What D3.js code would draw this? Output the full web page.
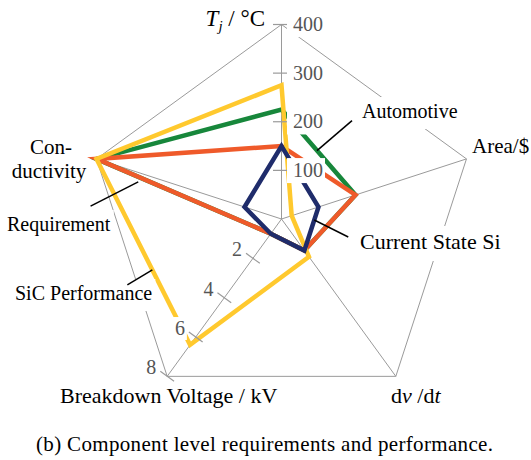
<!DOCTYPE html>
<html><head><meta charset="utf-8">
<script src="https://cdn.jsdelivr.net/npm/d3@7"></script>
<style>
html,body{margin:0;padding:0;background:#fff;}
svg{display:block;}
svg text{font-family:'Liberation Serif','DejaVu Serif',serif;}
</style></head><body>
<svg id="chart" width="531" height="460" font-family="Liberation Serif, DejaVu Serif, serif"></svg>
<script>
// Radar axes, clockwise from the top, with their full-scale values
const axisNames = ["Tj", "Area/$", "dv/dt", "Breakdown Voltage / kV", "Conductivity"];
const axisMax = [400, 1, 1, 8, 1];
const tjTicks = [100, 200, 300, 400];
const vbrTicks = [2, 4, 6, 8];

// Per-axis values: Tj (°C), Area/$ (rel.), dv/dt (rel.), breakdown (kV), conductivity (rel.)
const seriesNames = ["Automotive", "Requirement", "SiC Performance", "Current State Si"];
const automotive = [225, 0.40, 0.20, 0.75, 1.0];
const requirement = [150, 0.40, 0.20, 0.75, 1.0];
const sicPerformance = [275, 0.055, 0.24, 6.4, 1.0];
const currentSi = [150, 0.20, 0.20, 0.75, 0.20];
const seriesColors = ["#17873b", "#ef5a2a", "#ffc92e", "#1f2c6b"];

const caption = "(b) Component level requirements and performance.";

const W = 531, H = 460;
const cx = 281.5, cy = 219, R = 194.5;
const GRID = "#9a9a9a", TICKTXT = "#555";
const FONT = "'Liberation Serif', 'DejaVu Serif', serif";

const svg = d3.select("#chart");
svg.append("rect").attr("width", W).attr("height", H).attr("fill", "#fff");

const angle = i => i * 2 * Math.PI / axisMax.length;
const rScales = axisMax.map(m => d3.scaleLinear().domain([0, m]).range([0, R]));
const pt = (i, v) => {
  const r = rScales[i](v), a = angle(i);
  return [cx + r * Math.sin(a), cy - r * Math.cos(a)];
};
const lerp = (a, b, t) => [a[0] + (b[0] - a[0]) * t, a[1] + (b[1] - a[1]) * t];

// grid: outer pentagon and spokes
const gGrid = svg.append("g");
const outer = axisMax.map((m, i) => pt(i, m));
gGrid.append("path")
  .attr("d", d3.line().curve(d3.curveLinearClosed)(outer))
  .attr("fill", "none").attr("stroke", GRID).attr("stroke-width", 1);
outer.forEach(p => {
  gGrid.append("line").attr("x1", cx).attr("y1", cy).attr("x2", p[0]).attr("y2", p[1])
    .attr("stroke", GRID).attr("stroke-width", 1);
});

// series polygons
const seriesData = [automotive, requirement, sicPerformance, currentSi];
const polyLine = d3.line().curve(d3.curveLinearClosed);
const gSeries = svg.append("g");
seriesData.forEach((vals, k) => {
  gSeries.append("path")
    .attr("d", polyLine(vals.map((v, i) => pt(i, v))))
    .attr("fill", "none")
    .attr("stroke", seriesColors[k])
    .attr("stroke-width", 4.5)
    .attr("stroke-linejoin", "miter")
    .attr("stroke-miterlimit", 10);
});

// axis ticks
const gTicks = svg.append("g");
const labelLayer = svg.append("g");
const TL = 8.5;

function boxedText(parent, x, y, txt, opts) {
  const g = parent.append("g");
  const rect = g.append("rect").attr("fill", "#fff");
  const t = g.append("text").attr("x", x).attr("y", y)
    .attr("font-family", FONT)
    .attr("font-size", opts.size || 20)
    .attr("fill", opts.fill || "#000")
    .attr("text-anchor", opts.anchor || "start")
    .text(txt);
  const bb = t.node().getBBox();
  const p = opts.pad || [2, 2, 2, 2]; // top, right, bottom, left
  rect.attr("x", bb.x - p[3]).attr("y", bb.y - p[0])
    .attr("width", bb.width + p[1] + p[3]).attr("height", bb.height + p[0] + p[2]);
  return g;
}

tjTicks.forEach(v => {
  const [x, y] = pt(0, v);
  gTicks.append("line").attr("x1", x - TL).attr("x2", x + TL).attr("y1", y).attr("y2", y)
    .attr("stroke", GRID).attr("stroke-width", 1.2);
  boxedText(labelLayer, x + 11.5, y + 6.7, String(v), { fill: TICKTXT, pad: [1, 2, 2, 6] });
});

{
  const a = angle(3);
  const nx = -Math.cos(a), ny = -Math.sin(a); // perpendicular to the breakdown axis
  vbrTicks.forEach(v => {
    const [x, y] = pt(3, v);
    const x1 = x - TL * nx, y1 = y - TL * ny, x2 = x + TL * nx, y2 = y + TL * ny;
    gTicks.append("line").attr("x1", x1).attr("y1", y1).attr("x2", x2).attr("y2", y2)
      .attr("stroke", GRID).attr("stroke-width", 1.2);
    const lx = Math.min(x1, x2), ly = x1 < x2 ? y1 : y2;
    boxedText(labelLayer, lx - 4, ly + 3, String(v), { fill: TICKTXT, anchor: "end", pad: [0, 2, 1, 2] });
  });
}

// callouts, anchored on the series lines
const callouts = [
  { name: seriesNames[0], anchor: lerp(pt(0, automotive[0]), pt(1, automotive[1]), 0.48), off: [35, -30], tx: 362, ty: 118, size: 20 },
  { name: seriesNames[3], anchor: lerp(pt(1, currentSi[1]), pt(2, currentSi[2]), 0.3), off: [34, 17], tx: 360, ty: 249, size: 22 },
  { name: seriesNames[1], anchor: lerp(pt(4, requirement[4]), pt(3, requirement[3]), 0.27), off: [-53, 27], shorten: 6, tx: 7, ty: 231, size: 20 },
  { name: seriesNames[2], anchor: lerp(pt(4, sicPerformance[4]), pt(3, sicPerformance[3]), 0.597), off: [-25, 15], tx: 15, ty: 300, size: 20 }
];
const gCall = svg.append("g");
callouts.forEach(c => {
  const s = [c.anchor[0] + c.off[0], c.anchor[1] + c.off[1]];
  let e = c.anchor;
  if (c.shorten) {
    const L = Math.hypot(c.off[0], c.off[1]);
    e = [e[0] + c.off[0] / L * c.shorten, e[1] + c.off[1] / L * c.shorten];
  }
  boxedText(gCall, c.tx, c.ty, c.name, { size: c.size, pad: [3, 3, 7, 3] });
  gCall.append("line").attr("x1", s[0]).attr("y1", s[1]).attr("x2", e[0]).attr("y2", e[1])
    .attr("stroke", "#000").attr("stroke-width", 1.5);
});

// axis titles
const gAx = svg.append("g").attr("fill", "#000").attr("font-family", FONT);
{
  const t = gAx.append("text").attr("x", 265).attr("y", 26).attr("font-size", 23).attr("text-anchor", "end");
  t.append("tspan").attr("font-style", "italic").text("T");
  t.append("tspan").attr("font-style", "italic").attr("font-size", 15).attr("dy", 5).text("j");
  t.append("tspan").attr("dy", -5).text(" / °C");
}
gAx.append("text").attr("x", 472).attr("y", 153).attr("font-size", 21).text(axisNames[1]);
{
  const t = gAx.append("text").attr("x", 391).attr("y", 403).attr("font-size", 22);
  t.append("tspan").text("d");
  t.append("tspan").attr("font-style", "italic").text("v");
  t.append("tspan").text(" /d");
  t.append("tspan").attr("font-style", "italic").text("t");
}
gAx.append("text").attr("x", 60).attr("y", 403).attr("font-size", 22).text(axisNames[3]);
{
  // hyphenated conductivity title on two lines
  const t = gAx.append("text").attr("font-size", 21).attr("text-anchor", "middle");
  t.append("tspan").attr("x", 51).attr("y", 154).text("Con-");
  t.append("tspan").attr("x", 49).attr("y", 178).text("ductivity");
}

// caption
svg.append("text").attr("x", 36).attr("y", 451).attr("font-size", 21).attr("font-family", FONT)
  .attr("textLength", 457).attr("lengthAdjust", "spacing").text(caption);
</script>
</body></html>
